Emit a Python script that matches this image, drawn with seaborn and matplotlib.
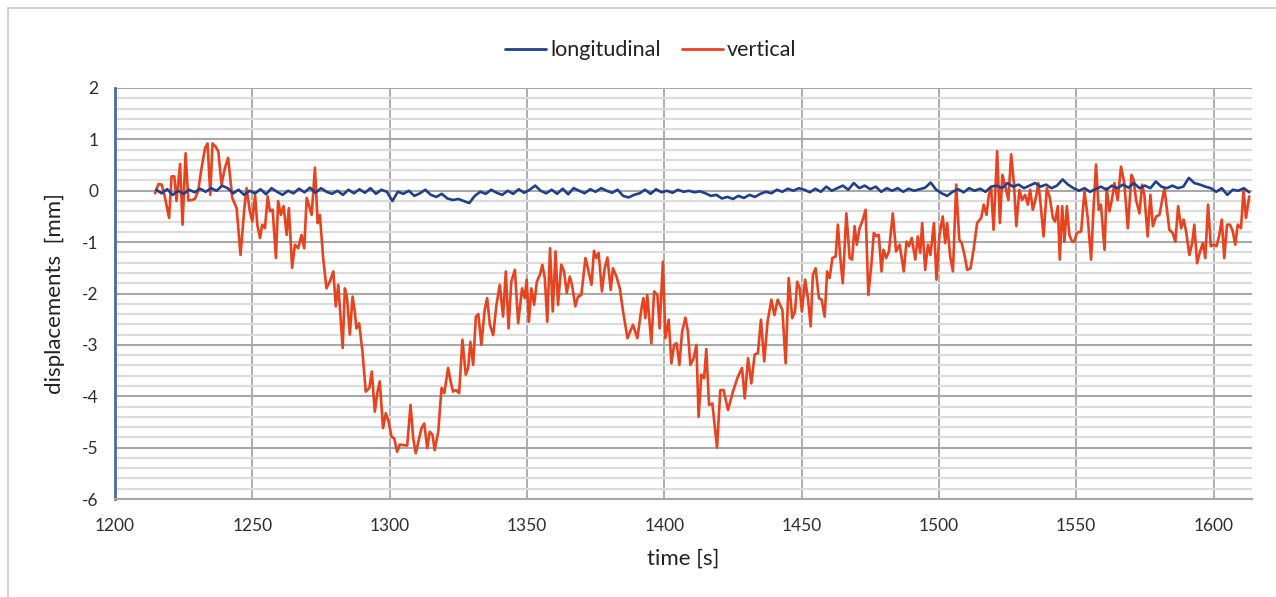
import numpy as np
import pandas as pd
import matplotlib
matplotlib.use("Agg")
import matplotlib.pyplot as plt
import seaborn as sns
from matplotlib.lines import Line2D
from matplotlib.ticker import MultipleLocator

# ---------------- data ----------------
long_time = np.arange(1215, 1614, 2)
long_disp = [
    0.02, -0.05, 0.03, -0.08, 0.0, -0.06, 0.02, -0.03, 0.04, -0.02, 0.05, 0.0, 0.1,
    0.05, -0.05, 0.02, -0.08, 0.0, -0.05, 0.03, -0.07, 0.05, -0.02, -0.08, 0.0, -0.05, 0.04, -0.03, 0.06, -0.04, 0.05, -0.02,
    -0.06, 0.0, -0.08, 0.02, -0.05, 0.03, -0.04, 0.05, -0.06, 0.02, -0.02,
    -0.2, -0.02, -0.06, 0.0, -0.1, -0.05, 0.02, -0.08, -0.12, -0.06, -0.15, -0.18, -0.16, -0.2, -0.24,
    -0.1, -0.02, -0.06, 0.02, -0.04, -0.08, 0.0, -0.06, 0.03, -0.04,
    0.02, 0.1, 0.0, -0.05, 0.02, -0.06, 0.04, -0.07, 0.05, 0.0, -0.05, 0.03, -0.02, 0.05, 0.0, -0.04, 0.02,
    -0.1, -0.13, -0.08, -0.05, 0.02, -0.06, 0.03, -0.03, 0.0, -0.04, 0.02, -0.02, 0.0, -0.03, -0.01,
    -0.05, -0.1, -0.08, -0.15, -0.12, -0.16, -0.1, -0.14, -0.08, -0.12, -0.06, -0.02, -0.05, 0.02,
    -0.02, 0.04, 0.0, 0.05, 0.02, -0.03, 0.04, -0.02, 0.08, 0.0, 0.05, 0.1, 0.02, 0.15, 0.05, 0.1, 0.03, 0.08, -0.02, 0.05,
    0.0, 0.05, -0.02, 0.04, 0.0, 0.03, 0.06, 0.16, 0.02, -0.05, -0.1, -0.02, 0.03, -0.03, 0.05, 0.0, 0.04, -0.02, 0.08,
    0.1, 0.05, 0.15, 0.08, 0.12, 0.05, 0.1, 0.15, 0.08, 0.12, 0.05, 0.1, 0.22, 0.12, 0.05,
    0.0, 0.05, -0.02, 0.03, 0.08, 0.02, 0.1, 0.05, 0.12, 0.06, 0.15, 0.05, 0.1, 0.05,
    0.18, 0.08, 0.05, 0.1, 0.05, 0.08, 0.25, 0.15, 0.12, 0.08, 0.05, -0.02, 0.05, -0.08, 0.02, 0.0, 0.05, -0.03,
]

vert_time = [
    1214.6, 1215.8, 1217.0, 1218.0, 1219.7, 1220.6, 1221.6, 1222.4, 1223.7, 1224.6, 1225.7, 1226.7, 1227.9, 1229.1,
    1230.3, 1231.5, 1232.8, 1233.7, 1234.7, 1235.5, 1236.6, 1237.6, 1238.8, 1240.0, 1241.2, 1242.7, 1244.3, 1245.7,
    1247.1, 1247.9, 1249.1, 1250.0, 1251.0, 1251.8, 1252.8, 1253.6, 1254.6, 1255.6, 1256.4, 1257.4, 1258.6, 1259.4,
    1260.4, 1261.4, 1262.5, 1263.3, 1264.5, 1265.5, 1266.7, 1267.9, 1268.9, 1269.8, 1270.7, 1271.6, 1272.8, 1273.8,
    1274.6, 1275.8, 1277.0,
    1278.2, 1279.5, 1280.4, 1281.3, 1282.9, 1283.7, 1284.5, 1285.5, 1286.5, 1287.3, 1287.9, 1288.9, 1290.1, 1291.3,
    1292.6, 1293.5, 1294.6, 1295.6, 1296.4, 1297.6, 1298.6, 1299.6, 1300.7, 1301.7, 1302.7, 1303.7, 1304.9, 1306.4,
    1307.6, 1308.6, 1309.5, 1310.5, 1311.6, 1312.6, 1313.7, 1314.6, 1315.6, 1316.4, 1317.7, 1318.9, 1319.9, 1321.3,
    1322.2, 1323.1, 1324.1, 1325.3, 1326.5, 1327.7, 1328.6, 1329.4, 1330.4, 1331.4, 1332.3, 1333.4, 1334.6, 1335.5,
    1336.5, 1337.7, 1338.9, 1340.1, 1341.3, 1342.3, 1343.3, 1344.3, 1345.6, 1346.8,
    1348.2, 1349.2, 1349.9, 1350.7, 1351.6, 1352.6, 1353.6, 1354.7, 1355.6, 1356.5, 1357.4, 1358.4, 1359.4, 1360.4,
    1361.3, 1362.5, 1363.5, 1364.5, 1365.6, 1366.4, 1367.6, 1368.6, 1369.8, 1371.3, 1372.2, 1373.5, 1374.4, 1375.3,
    1376.1, 1377.3, 1378.3, 1379.3, 1380.5, 1381.3, 1382.6, 1383.8, 1385.0, 1386.6, 1387.8, 1388.6, 1390.2, 1391.7,
    1392.4, 1393.1, 1393.8, 1395.3, 1396.3, 1397.5, 1398.3, 1399.5, 1400.4, 1401.6, 1402.6, 1403.6, 1404.5, 1405.5,
    1406.5, 1407.7, 1408.6, 1409.5, 1410.7, 1411.7, 1412.5, 1413.5, 1414.5,
    1415.3, 1416.3, 1417.5, 1419.2, 1420.4, 1421.6, 1423.2, 1425.0, 1426.8, 1428.3, 1429.3, 1430.5, 1431.7, 1432.9,
    1434.1, 1435.2, 1436.4, 1437.6, 1439.0, 1440.1, 1441.3, 1443.0, 1444.2, 1445.3, 1446.6, 1447.6, 1448.4, 1449.3,
    1450.1, 1451.3, 1452.3, 1453.3, 1454.1, 1455.1, 1456.3, 1457.3, 1458.4, 1459.3, 1460.2, 1461.2, 1462.4, 1463.2,
    1464.1, 1465.0, 1466.3, 1467.5, 1468.4, 1469.3, 1470.1, 1471.1, 1472.3, 1473.3, 1474.3, 1475.4, 1476.3, 1477.2,
    1478.1, 1479.1, 1479.8, 1480.8, 1481.8,
    1482.4, 1483.2, 1484.4, 1485.7, 1487.2, 1488.2, 1489.1, 1490.1, 1491.4, 1492.3, 1493.2, 1493.9, 1495.0, 1496.0,
    1496.9, 1498.2, 1499.1, 1500.2, 1501.4, 1502.3, 1503.0, 1504.1, 1505.1, 1506.3, 1507.4, 1508.3, 1509.3, 1510.3,
    1511.5, 1512.7, 1513.9, 1515.4, 1516.3, 1517.3, 1518.2, 1519.0, 1519.9, 1521.2, 1522.2, 1523.1, 1524.2, 1525.3,
    1526.3, 1527.3, 1528.2, 1529.3, 1530.3, 1531.4, 1532.4, 1533.2, 1534.2, 1535.4, 1536.2, 1537.0, 1538.1, 1539.3,
    1540.4, 1541.5, 1542.3, 1543.3, 1544.0, 1544.9, 1545.7, 1546.6, 1547.5, 1548.5,
    1549.3, 1550.2, 1551.8, 1553.0, 1554.2, 1555.4, 1556.3, 1557.2, 1558.2, 1559.0, 1560.3, 1561.1, 1562.1, 1563.1,
    1563.9, 1565.1, 1566.3, 1567.5, 1568.8, 1570.1, 1570.9, 1571.8, 1573.0, 1574.0, 1574.8, 1576.0, 1577.0, 1577.9,
    1579.1, 1580.3, 1582.1, 1583.9, 1585.1, 1586.1, 1587.1, 1588.2, 1589.1, 1590.0, 1591.2, 1592.2, 1593.0, 1594.0,
    1595.1, 1596.1, 1597.0, 1598.0, 1599.0, 1600.1, 1601.1, 1602.1, 1603.0, 1603.9, 1604.9, 1606.0, 1607.0, 1607.9,
    1608.8, 1610.0, 1610.9, 1611.8, 1613.0,
]
vert_disp = [
    -0.05, 0.13, 0.12, -0.08, -0.53, 0.28, 0.28, -0.2, 0.52, -0.66, 0.73, -0.19, -0.18, -0.16,
    0.0, 0.44, 0.83, 0.92, -0.08, 0.92, 0.86, 0.77, 0.12, 0.44, 0.64, -0.14, -0.34, -1.25,
    -0.34, 0.05, -0.4, -0.6, -0.08, -0.66, -0.92, -0.66, -0.73, -0.11, -0.4, -0.37, -1.31, -0.2,
    -0.47, -0.3, -0.86, -0.34, -1.5, -1.05, -1.12, -0.86, -1.12, -0.14, -0.3, -0.47, 0.45, -0.63,
    -0.47, -1.31, -1.9,
    -1.77, -1.57, -2.25, -1.83, -3.06, -1.9, -2.09, -2.8, -2.06, -2.35, -2.68, -2.58, -3.13, -3.91,
    -3.84, -3.52, -4.3, -3.91, -3.71, -4.62, -4.33, -4.49, -4.79, -4.82, -5.08, -4.94, -4.95, -4.96,
    -4.17, -4.82, -5.11, -4.88, -4.62, -4.53, -5.01, -4.69, -4.75, -5.05, -4.69, -3.84, -3.94, -3.45,
    -3.71, -3.91, -3.88, -3.94, -2.9, -3.58, -3.45, -2.94, -3.39, -2.45, -2.4, -3.0, -2.32, -2.09,
    -2.61, -2.81, -2.22, -1.83, -2.45, -1.57, -2.68, -1.77, -1.54, -2.58,
    -1.9, -2.09, -1.73, -2.55, -1.9, -2.22, -1.77, -1.64, -1.44, -1.7, -2.55, -1.12, -2.35, -1.18,
    -2.22, -1.44, -1.57, -1.99, -1.67, -1.83, -2.25, -2.06, -2.03, -1.31, -1.51, -1.83, -1.17, -1.31,
    -1.21, -1.96, -1.51, -1.3, -1.93, -1.51, -1.67, -1.9, -2.35, -2.87, -2.71, -2.61, -2.87, -2.29,
    -2.09, -2.48, -2.03, -2.97, -1.96, -2.03, -2.68, -1.38, -2.87, -2.51, -3.36, -3.0, -2.97, -3.39,
    -2.74, -2.47, -2.74, -3.39, -3.26, -3.0, -4.4, -3.58, -3.65,
    -3.08, -4.17, -4.14, -5.0, -3.88, -3.88, -4.27, -3.91, -3.62, -3.45, -4.04, -3.26, -3.75, -3.19,
    -3.16, -2.51, -3.32, -2.55, -2.12, -2.42, -2.12, -2.32, -3.36, -1.7, -2.48, -2.35, -1.77, -1.9,
    -2.35, -1.73, -2.09, -2.64, -1.64, -1.51, -2.09, -2.12, -2.45, -1.57, -1.7, -1.31, -1.28, -0.66,
    -1.31, -1.8, -0.44, -1.31, -1.34, -0.69, -1.05, -0.73, -0.56, -0.37, -2.03, -1.44, -0.82, -0.88,
    -0.86, -1.57, -1.15, -1.31, -1.18,
    -0.86, -0.44, -1.18, -1.05, -1.57, -0.99, -1.08, -0.92, -1.34, -0.89, -1.21, -0.63, -1.54, -1.05,
    -1.25, -0.63, -1.73, -0.86, -0.5, -1.02, -0.63, -1.28, -1.57, 0.12, -0.95, -1.02, -1.25, -1.54,
    -1.51, -1.12, -0.63, -0.53, -0.27, -0.47, -0.08, 0.05, -0.76, 0.77, -0.63, 0.31, 0.08, -0.18,
    0.71, 0.15, -0.69, 0.02, -0.18, -0.08, -0.27, 0.02, -0.37, -0.11, 0.15, -0.24, -0.89, 0.05,
    -0.14, -0.53, -0.6, -0.3, -1.34, -0.3, -0.99, -0.3, -0.86, -0.99,
    -0.99, -0.82, -0.79, -0.01, -0.53, -1.34, -0.34, 0.51, -0.37, -0.27, -1.15, 0.05, -0.4, -0.14,
    0.15, -0.18, 0.47, 0.15, -0.73, 0.31, 0.21, -0.18, -0.44, 0.12, -0.08, -0.89, -0.08, -0.69,
    -0.5, -0.47, 0.05, -0.76, -0.82, -0.99, -0.3, -0.73, -0.56, -0.79, -1.25, -1.02, -0.66, -1.41,
    -1.18, -1.02, -1.31, -0.27, -1.08, -1.05, -1.08, -0.86, -0.56, -1.31, -0.66, -0.66, -0.79, -1.05,
    -0.66, -0.73, 0.02, -0.53, -0.11,
]

series_names = ["longitudinal", "vertical"]
series_colors = ["#213F8B", "#E8431E"]
x_ticks = [1200, 1250, 1300, 1350, 1400, 1450, 1500, 1550, 1600]
y_ticks = [-6, -5, -4, -3, -2, -1, 0, 1, 2]

# ---------------- plot ----------------
sns.set_theme(style="white")
plt.rcParams["font.family"] = ["Lato", "DejaVu Sans"]
plt.rcParams["axes.unicode_minus"] = False

fig = plt.figure(figsize=(12.76, 5.97), dpi=100)
ax = fig.add_axes([115 / 1276, 1 - 499 / 597, (1252 - 115) / 1276, (499 - 88) / 597])

df_long = pd.DataFrame({"time": long_time, "disp": long_disp})
df_vert = pd.DataFrame({"time": vert_time, "disp": vert_disp})

sns.lineplot(data=df_long, x="time", y="disp", color=series_colors[0], lw=1.9,
             label=series_names[0], ax=ax, legend=False, zorder=4)
sns.lineplot(data=df_vert, x="time", y="disp", color=series_colors[1], lw=1.9,
             label=series_names[1], ax=ax, legend=False, zorder=3)

ax.set_xlim(1200, 1614)
ax.set_ylim(-6, 2)
ax.set_xticks(x_ticks)
ax.set_yticks(y_ticks)
ax.yaxis.set_minor_locator(MultipleLocator(0.2))

ax.grid(which="minor", axis="y", color="#DCDCDC", lw=1.6, zorder=0)
ax.grid(which="major", axis="y", color="#A8A8A8", lw=1.5, zorder=1)
ax.grid(which="major", axis="x", color="#A8A8A8", lw=1.3, zorder=1)
ax.set_axisbelow(True)

for s in ["top", "right"]:
    ax.spines[s].set_visible(False)
ax.spines["left"].set_color("#4A6BAA")
ax.spines["left"].set_linewidth(2.0)
ax.spines["bottom"].set_color("#A8A8A8")
ax.spines["bottom"].set_linewidth(1.5)

ax.tick_params(axis="both", which="both", length=0, labelsize=12.5, labelcolor="#2E2E2E")
ax.tick_params(axis="x", pad=14)
ax.tick_params(axis="y", pad=12)

ax.set_xlabel("time [s]", fontsize=16, color="#222222", labelpad=10)
ax.set_ylabel("displacements  [mm]", fontsize=16, color="#222222", labelpad=12)

handles = [Line2D([0], [0], color=c, lw=2) for c in series_colors]
fig.legend(handles, series_names, loc="upper center", bbox_to_anchor=(0.51, 0.965),
           ncol=2, frameon=False, fontsize=15.5, handlelength=1.9, handletextpad=0.2,
           columnspacing=1.0, labelcolor="#222222")

# outer frame of the chart area
fig.add_artist(Line2D([8 / 1276, 1], [1 - 8 / 597, 1 - 8 / 597], color="#C8C8C8", lw=1.2))
fig.add_artist(Line2D([8 / 1276, 8 / 1276], [0, 1 - 8 / 597], color="#C8C8C8", lw=1.2))

fig.savefig("out.png", dpi=100, facecolor="white")
